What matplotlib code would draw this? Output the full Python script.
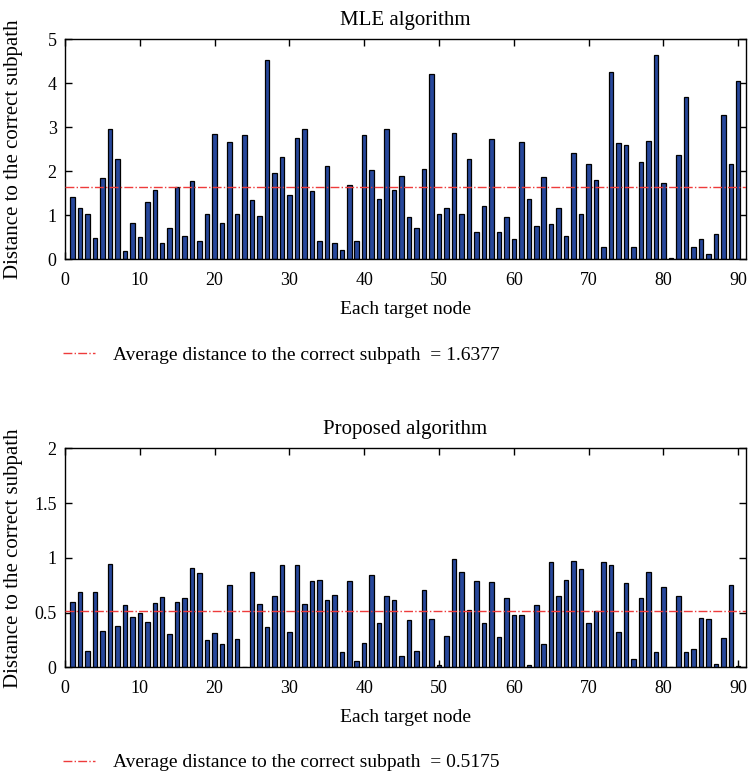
import numpy as np
import matplotlib
matplotlib.use("Agg")
import matplotlib.pyplot as plt

plt.rcParams['font.family'] = ['Liberation Serif', 'DejaVu Serif']

# ---------- data ----------
nodes = np.arange(1, 91)

mle_dist = [1.42, 1.16, 1.02, 0.49, 1.84, 2.97, 2.27, 0.18, 0.82, 0.50,
            1.30, 1.57, 0.36, 0.72, 1.65, 0.52, 1.79, 0.42, 1.03, 2.84,
            0.83, 2.66, 1.03, 2.82, 1.35, 0.99, 4.52, 1.95, 2.33, 1.45,
            2.75, 2.97, 1.55, 0.42, 2.12, 0.36, 0.20, 1.68, 0.42, 2.83,
            2.02, 1.36, 2.96, 1.58, 1.89, 0.97, 0.72, 2.06, 4.21, 1.02,
            1.17, 2.86, 1.04, 2.27, 0.62, 1.20, 2.73, 0.63, 0.97, 0.46,
            2.67, 1.36, 0.76, 1.86, 0.81, 1.17, 0.54, 2.41, 1.02, 2.17,
            1.80, 0.27, 4.26, 2.64, 2.60, 0.29, 2.20, 2.69, 4.64, 1.74,
            0.02, 2.37, 3.68, 0.29, 0.45, 0.11, 0.58, 3.29, 2.16, 4.06]

prop_dist = [0.60, 0.69, 0.15, 0.69, 0.33, 0.94, 0.38, 0.57, 0.46, 0.50,
             0.41, 0.59, 0.64, 0.30, 0.60, 0.63, 0.91, 0.86, 0.25, 0.31,
             0.21, 0.75, 0.26, 0.005, 0.87, 0.58, 0.37, 0.65, 0.93, 0.32,
             0.93, 0.58, 0.79, 0.80, 0.61, 0.66, 0.14, 0.79, 0.06, 0.22,
             0.84, 0.40, 0.65, 0.61, 0.10, 0.43, 0.15, 0.71, 0.44, 0.02,
             0.29, 0.99, 0.87, 0.52, 0.79, 0.40, 0.78, 0.28, 0.63, 0.48,
             0.48, 0.02, 0.57, 0.21, 0.96, 0.65, 0.80, 0.97, 0.90, 0.40,
             0.51, 0.96, 0.93, 0.32, 0.77, 0.08, 0.63, 0.87, 0.14, 0.73,
             0.0, 0.65, 0.14, 0.17, 0.45, 0.44, 0.03, 0.27, 0.75, 0.01]

mle_avg = 1.6377
prop_avg = 0.5175

titles = ["MLE algorithm", "Proposed algorithm"]
ylims = [5, 2]
yticks = [[0, 1, 2, 3, 4, 5], [0, 0.5, 1, 1.5, 2]]
yticklabels = [["0", "1", "2", "3", "4", "5"], ["0", "0.5", "1", "1.5", "2"]]
xticks = list(range(0, 91, 10))

bar_color = '#27479b'

fig = plt.figure(figsize=(7.49, 7.77), dpi=100)
ax_top = fig.add_axes([0.0868, 0.6663, 0.9088, 0.2831])
ax_bot = fig.add_axes([0.0868, 0.1412, 0.9088, 0.2819])

panels = [(ax_top, mle_dist, mle_avg), (ax_bot, prop_dist, prop_avg)]

for k, (ax, dist, avg) in enumerate(panels):
    ax.bar(nodes, dist, width=0.6, color=bar_color, edgecolor='black', linewidth=0.9, zorder=2)
    ax.plot([0, 91], [avg, avg], color='#ee3b3b', ls='-.', lw=1.0, zorder=3,
            label=f"Average distance to the correct subpath  = {avg:.4f}")
    ax.set_xlim(0, 91)
    ax.set_ylim(0, ylims[k])
    ax.set_xticks(xticks)
    ax.set_yticks(yticks[k])
    ax.set_yticklabels(yticklabels[k])
    ax.tick_params(direction='in', top=True, right=True, length=5, width=1,
                   labelsize=13)
    ax.tick_params(axis='x', pad=9)
    ax.tick_params(axis='y', pad=6)
    for s in ax.spines.values():
        s.set_linewidth(1.0)
    ax.set_title(titles[k], fontsize=15, pad=10)
    ax.set_xlabel("Each target node", fontsize=14, labelpad=9)
    ax.set_ylabel("Distance to the correct subpath", fontsize=15)
    ax.yaxis.set_label_coords(-0.062, 0.5)
    ax.legend(loc='center left', bbox_to_anchor=(-0.003, -0.435), frameon=False,
              fontsize=14, handlelength=1.65, handletextpad=0.9,
              borderaxespad=0, borderpad=0)

fig.savefig("out.png", dpi=100)
